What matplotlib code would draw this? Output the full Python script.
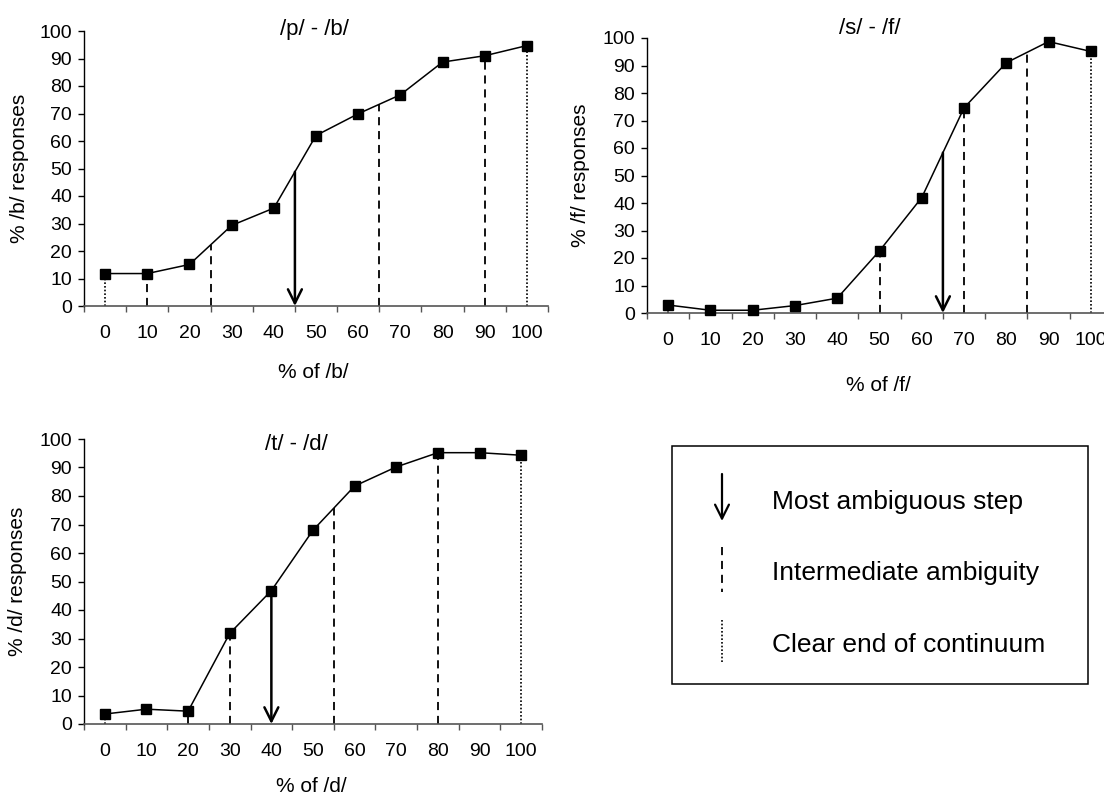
import numpy as np
import matplotlib
matplotlib.use('Agg')
import matplotlib.pyplot as plt
from matplotlib.patches import Rectangle
from matplotlib.lines import Line2D

plt.rcParams['font.family'] = ['Liberation Sans', 'DejaVu Sans']

# ---------------- data ----------------
steps = [0, 10, 20, 30, 40, 50, 60, 70, 80, 90, 100]
tick_labels = ['0', '10', '20', '30', '40', '50', '60', '70', '80', '90', '100']

pb_values = [11.8, 11.8, 15.1, 29.3, 35.6, 62.0, 69.9, 76.8, 88.7, 91.0, 94.7]
sf_values = [2.9, 1.0, 1.0, 2.7, 5.4, 22.6, 42.0, 74.6, 91.0, 98.7, 95.1]
td_values = [3.5, 5.2, 4.5, 31.8, 46.8, 68.0, 83.5, 90.2, 95.2, 95.2, 94.3]

# positions (in % of continuum) of the annotation lines
pb_arrow = [45]
pb_dashed = [10, 25, 65, 90]
pb_dotted = [0, 100]

sf_arrow = [65]
sf_dashed = [50, 70, 85]
sf_dotted = [0, 100]

td_arrow = [40]
td_dashed = [20, 30, 55, 80]
td_dotted = [0, 100]

titles = ['/p/ - /b/', '/s/ - /f/', '/t/ - /d/']
ylabels = ['% /b/ responses', '% /f/ responses', '% /d/ responses']
xlabels = ['% of /b/', '% of /f/', '% of /d/']

legend_labels = ['Most ambiguous step', 'Intermediate ambiguity', 'Clear end of continuum']

# ---------------- figure ----------------
W, H = 1104, 796
fig = plt.figure(figsize=(W / 100, H / 100), dpi=100)
fig.patch.set_facecolor('white')

AXIS_GRAY = '#555555'
FS = 14
LFS = 15
TFS = 16
DASH = (0, (4.5, 3.2))
DOT = (0, (1, 1.2))


def px_rect(left, right, top, bottom):
    return [left / W, 1 - bottom / H, (right - left) / W, (bottom - top) / H]


def draw_panel(ax, values, arrows, dashed, dotted):
    ax.set_xlim(-5, 105)
    ax.set_ylim(0, 100)
    for x in dotted:
        h = np.interp(x, steps, values)
        ax.plot([x, x], [0, h], color='black', lw=1.2, ls=DOT, zorder=2,
                clip_on=False)
    for x in dashed:
        h = np.interp(x, steps, values)
        ax.plot([x, x], [0, h], color='black', lw=1.3, ls=DASH, zorder=2,
                clip_on=False)
    for x in arrows:
        h = np.interp(x, steps, values)
        ax.annotate('', xy=(x, 0), xytext=(x, h),
                    arrowprops=dict(arrowstyle='->,head_length=1.0,head_width=0.5',
                                    lw=1.8, color='black', shrinkA=0, shrinkB=0),
                    annotation_clip=False, zorder=3)
    ax.plot(steps, values, color='black', lw=1.1, marker='s', ms=7.5,
            mfc='black', mec='black', clip_on=False, zorder=4)

    for s in ['top', 'right']:
        ax.spines[s].set_visible(False)
    ax.spines['left'].set_color('black')
    ax.spines['left'].set_linewidth(1.0)
    ax.spines['bottom'].set_color(AXIS_GRAY)
    ax.spines['bottom'].set_linewidth(1.2)

    ax.set_xticks(steps)
    ax.set_xticklabels(tick_labels)
    ax.tick_params(axis='x', which='major', length=0, pad=14, labelsize=FS)
    ax.set_xticks(np.arange(-5, 106, 10), minor=True)
    ax.tick_params(axis='x', which='minor', length=4.5, width=1.0,
                   color=AXIS_GRAY, direction='out')
    ax.set_yticks(range(0, 101, 10))
    ax.tick_params(axis='y', length=4.5, width=1.0, direction='out', pad=4,
                   labelsize=FS)
    ax.set_facecolor('none')


ax1 = fig.add_axes(px_rect(84, 548, 31, 306))
ax2 = fig.add_axes(px_rect(647, 1112, 38, 313))
ax3 = fig.add_axes(px_rect(84, 542, 439, 724))

draw_panel(ax1, pb_values, pb_arrow, pb_dashed, pb_dotted)
draw_panel(ax2, sf_values, sf_arrow, sf_dashed, sf_dotted)
draw_panel(ax3, td_values, td_arrow, td_dashed, td_dotted)


def ftext(x, y, s, **kw):
    fig.text(x / W, 1 - y / H, s, **kw)


# titles
ftext(314, 30, titles[0], ha='center', va='center', fontsize=TFS)
ftext(870, 29, titles[1], ha='center', va='center', fontsize=TFS)
ftext(296, 444, titles[2], ha='center', va='center', fontsize=TFS)

# y labels
ftext(20, 168, ylabels[0], ha='center', va='center', rotation=90, fontsize=LFS)
ftext(580, 175, ylabels[1], ha='center', va='center', rotation=90, fontsize=LFS)
ftext(18, 581, ylabels[2], ha='center', va='center', rotation=90, fontsize=LFS)

# x labels
ftext(313, 373, xlabels[0], ha='center', va='center', fontsize=LFS)
ftext(878, 385, xlabels[1], ha='center', va='center', fontsize=LFS)
ftext(311, 786, xlabels[2], ha='center', va='center', fontsize=LFS)

# ---------------- legend box ----------------
lax = fig.add_axes([0, 0, 1, 1])
lax.set_xlim(0, W)
lax.set_ylim(H, 0)
lax.axis('off')
lax.set_facecolor('none')

lax.add_patch(Rectangle((672, 446), 416, 238, fill=False, edgecolor='black',
                        lw=1.1))
lax.annotate('', xy=(722, 521), xytext=(722, 474),
             arrowprops=dict(arrowstyle='->,head_length=1.0,head_width=0.5',
                             lw=1.6, color='black', shrinkA=0, shrinkB=0))
lax.add_line(Line2D([722, 722], [547, 592], color='black', lw=1.3, ls=DASH))
lax.add_line(Line2D([722, 722], [620, 663], color='black', lw=1.2, ls=DOT))

for y, lab in zip([502, 573, 645], legend_labels):
    lax.text(772, y, lab, ha='left', va='center', fontsize=19)

fig.savefig('out.png', dpi=100)
